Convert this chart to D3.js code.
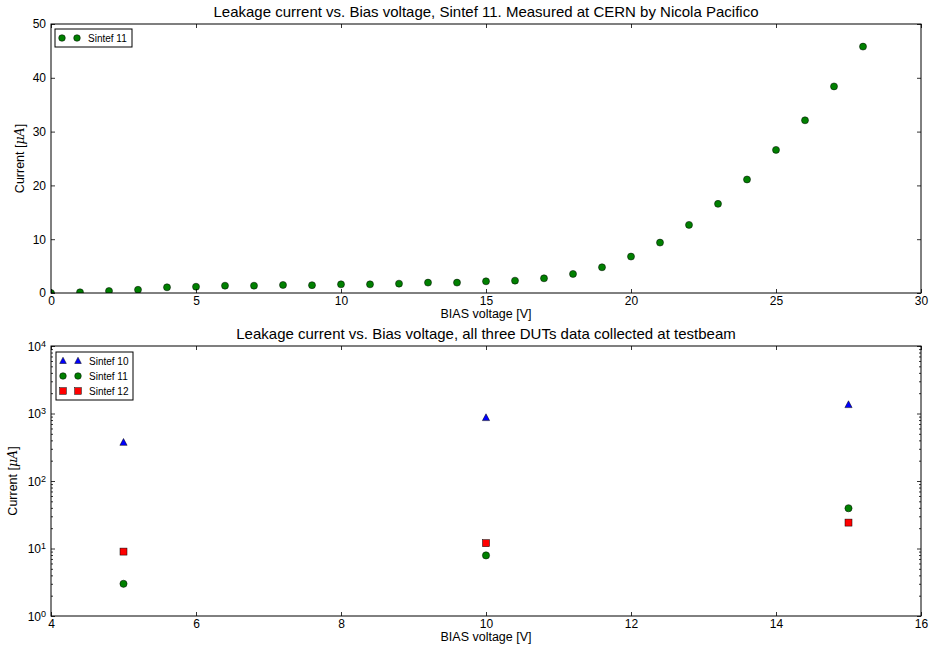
<!DOCTYPE html>
<html>
<head>
<meta charset="utf-8">
<script src="https://cdn.jsdelivr.net/npm/d3@7"></script>
<style>
  body { margin: 0; background: #fff; }
  svg { display: block; font-family: "Liberation Sans", Arial, sans-serif; }
  .tick text { font-size: 12px; fill: #000; }
  .title { font-size: 15px; }
  .label { font-size: 12.5px; }
  .legend text { font-size: 10px; }
</style>
</head>
<body>
<svg id="chart" width="929" height="651"></svg>
<script>
// 上图：Sintef 11 漏电流（CERN 测量）
const cernVoltage = [0, 1, 2, 3, 4, 5, 6, 7, 8, 9, 10, 11, 12, 13, 14, 15, 16, 17, 18, 19, 20, 21, 22, 23, 24, 25, 26, 27, 28];
const cernCurrent = [0.0, 0.13, 0.37, 0.6, 1.06, 1.17, 1.36, 1.36, 1.49, 1.45, 1.61, 1.61, 1.74, 1.93, 1.93, 2.17, 2.3, 2.73, 3.54, 4.78, 6.77, 9.37, 12.66, 16.57, 21.1, 26.6, 32.1, 38.4, 45.8];

// 下图：三个 DUT 的测试束数据
const beamVoltage = [5, 10, 15];
const sintef10 = [370, 860, 1340];
const sintef11 = [3.0, 7.9, 39.5];
const sintef12 = [9.0, 12.0, 24.2];

const topXTicks = [0, 5, 10, 15, 20, 25, 30];
const topYTicks = [0, 10, 20, 30, 40, 50];
const botXTicks = [4, 6, 8, 10, 12, 14, 16];
const botYDecades = [0, 1, 2, 3, 4];

const svg = d3.select("#chart");
const defs = svg.append("defs");

const left = 51, right = 921;

// 坐标框 + 内向刻度（classic matplotlib 风格）
function frame(g, x, y, top, bottom, xTicks, yTicks, yFmt, minor) {
  const inner = (axis, len, pad) => axis.tickSizeInner(-len).tickSizeOuter(0).tickPadding(pad);

  g.append("g").attr("transform", `translate(0,${bottom})`)
    .call(inner(d3.axisBottom(x).tickValues(xTicks).tickFormat(d3.format("d")), 4, 3));
  g.append("g").attr("transform", `translate(0,${top})`)
    .call(inner(d3.axisTop(x).tickValues(xTicks).tickFormat(""), 4, 3));
  const yl = g.append("g").attr("transform", `translate(${left},0)`)
    .call(inner(d3.axisLeft(y).tickValues(yTicks).tickFormat(yFmt ? () => "" : d3.format("d")), 4, 5));
  g.append("g").attr("transform", `translate(${right},0)`)
    .call(inner(d3.axisRight(y).tickValues(yTicks).tickFormat(""), 4, 5));

  if (minor) {
    g.append("g").attr("transform", `translate(${left},0)`)
      .call(d3.axisLeft(y).tickValues(minor).tickFormat("").tickSizeInner(-2).tickSizeOuter(0));
    g.append("g").attr("transform", `translate(${right},0)`)
      .call(d3.axisRight(y).tickValues(minor).tickFormat("").tickSizeInner(-2).tickSizeOuter(0));
  }
  if (yFmt) {
    yl.selectAll(".tick").each(function(d) {
      const t = d3.select(this).append("text")
        .attr("x", -5).attr("dy", "0.36em").attr("text-anchor", "end")
        .style("font-size", "12px").attr("fill", "#000");
      yFmt(t, d);
    });
  }
  g.selectAll(".domain").remove();
  g.selectAll(".tick line").attr("stroke", "#000").attr("stroke-width", 0.8);
  g.append("rect")
    .attr("x", left).attr("y", top)
    .attr("width", right - left).attr("height", bottom - top)
    .attr("fill", "none").attr("stroke", "#000").attr("stroke-width", 1);
}

function clip(id, top, bottom) {
  defs.append("clipPath").attr("id", id)
    .append("rect").attr("x", left).attr("y", top)
    .attr("width", right - left).attr("height", bottom - top);
}

function marker(sel, shape, color, s) {
  if (shape === "circle") {
    sel.append("circle").attr("r", s);
  } else if (shape === "square") {
    sel.append("rect").attr("x", -s).attr("y", -s).attr("width", 2 * s).attr("height", 2 * s);
  } else {
    sel.append("path").attr("d", `M0,${-s * 1.15}L${s},${s * 0.75}L${-s},${s * 0.75}Z`);
  }
  sel.selectAll("*").attr("fill", color).attr("stroke", "#000").attr("stroke-width", 0.5);
}

function legend(g, x0, y0, items) {
  const lg = g.append("g").attr("class", "legend");
  lg.append("rect")
    .attr("x", x0).attr("y", y0)
    .attr("width", 77).attr("height", items.length * 15 + 3)
    .attr("fill", "#fff").attr("stroke", "#000").attr("stroke-width", 1);
  items.forEach((it, i) => {
    const cy = y0 + 9 + i * 15;
    [x0 + 7, x0 + 22].forEach(cx => {
      marker(lg.append("g").attr("transform", `translate(${cx},${cy})`), it.shape, it.color, 3.3);
    });
    lg.append("text").attr("x", x0 + 33).attr("y", cy).attr("dy", "0.35em").text(it.name);
  });
}

function labels(g, top, bottom, title, xLabelY, yLabelX) {
  g.append("text").attr("class", "title")
    .attr("x", (left + right) / 2).attr("y", top - 7)
    .attr("text-anchor", "middle").text(title);
  g.append("text").attr("class", "label")
    .attr("x", (left + right) / 2).attr("y", xLabelY)
    .attr("text-anchor", "middle").text("BIAS voltage [V]");
  const yl = g.append("text").attr("class", "label")
    .attr("transform", `translate(${yLabelX},${(top + bottom) / 2}) rotate(-90)`)
    .attr("text-anchor", "middle");
  yl.append("tspan").text("Current [");
  yl.append("tspan").attr("font-style", "italic").attr("font-family", "DejaVu Serif, serif").text("μA");
  yl.append("tspan").text("]");
}

// ---------- 上图 ----------
{
  const top = 24, bottom = 293;
  const x = d3.scaleLinear().domain([0, 30]).range([left, right]);
  const y = d3.scaleLinear().domain([0, 50]).range([bottom, top]);
  const g = svg.append("g");
  clip("clip-top", top, bottom);

  g.append("g").attr("clip-path", "url(#clip-top)")
    .selectAll("g").data(cernVoltage).join("g")
    .attr("transform", (d, i) => `translate(${x(d)},${y(cernCurrent[i])})`)
    .each(function() { marker(d3.select(this), "circle", "#008000", 3.5); });

  frame(g, x, y, top, bottom, topXTicks, topYTicks, null, null);
  labels(g, top, bottom,
    "Leakage current vs. Bias voltage, Sintef 11. Measured at CERN by Nicola Pacifico", 318, 24);
  legend(g, 55, 29, [{ name: "Sintef 11", shape: "circle", color: "#008000" }]);
}

// ---------- 下图 ----------
{
  const top = 346, bottom = 616;
  const x = d3.scaleLinear().domain([4, 16]).range([left, right]);
  const y = d3.scaleLog().domain([1, 10000]).range([bottom, top]);
  const g = svg.append("g");
  clip("clip-bot", top, bottom);

  const series = [
    { name: "Sintef 10", values: sintef10, shape: "triangle", color: "#0000ff" },
    { name: "Sintef 11", values: sintef11, shape: "circle", color: "#008000" },
    { name: "Sintef 12", values: sintef12, shape: "square", color: "#ff0000" }
  ];
  const plot = g.append("g").attr("clip-path", "url(#clip-bot)");
  series.forEach(s => {
    plot.append("g").selectAll("g").data(beamVoltage).join("g")
      .attr("transform", (d, i) => `translate(${x(d)},${y(s.values[i])})`)
      .each(function() { marker(d3.select(this), s.shape, s.color, s.shape === "square" ? 3.5 : 3.6); });
  });

  const majors = botYDecades.map(e => Math.pow(10, e));
  const minors = [];
  for (let e = 0; e < 4; e++) for (let m = 2; m <= 9; m++) minors.push(m * Math.pow(10, e));

  frame(g, x, y, top, bottom, botXTicks, majors, (t, d) => {
    t.append("tspan").text("10");
    t.append("tspan").attr("dy", "-0.45em").style("font-size", "9px").text(Math.round(Math.log10(d)));
  }, minors);
  labels(g, top, bottom,
    "Leakage current vs. Bias voltage, all three DUTs data collected at testbeam", 641, 17);
  legend(g, 56, 352, series);
}
</script>
</body>
</html>
